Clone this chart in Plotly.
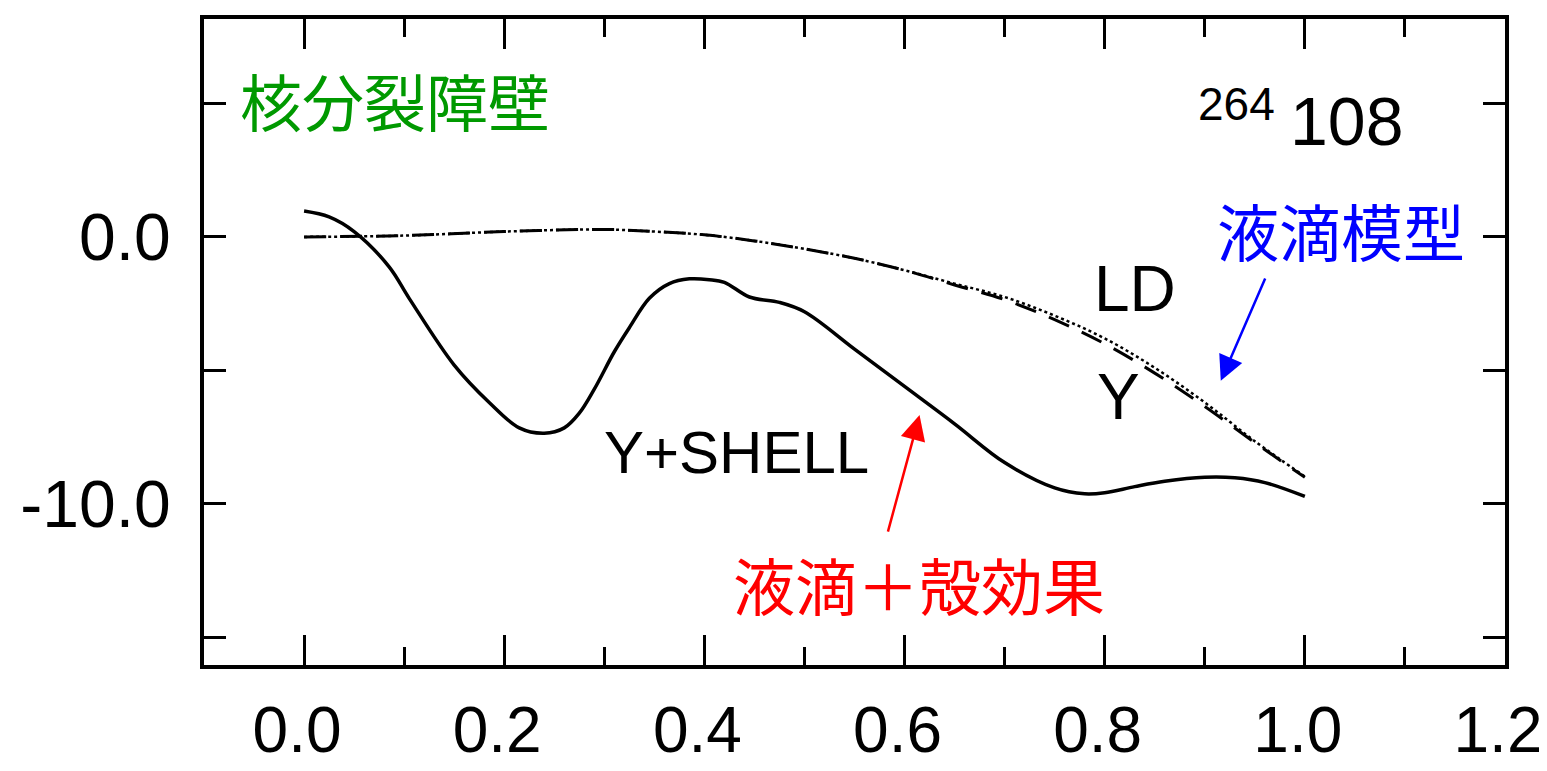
import plotly.graph_objects as go

# Y+SHELL (solid)
shell_x = [0.0, 0.025, 0.05, 0.085, 0.105, 0.15, 0.185, 0.215, 0.24, 0.26, 0.275, 0.29, 0.31, 0.325,
           0.345, 0.365, 0.385, 0.405, 0.42, 0.445, 0.475, 0.5, 0.55, 0.6, 0.65, 0.7, 0.75, 0.78,
           0.8, 0.83, 0.86, 0.9, 0.93, 0.96, 1.0]
shell_y = [0.97, 0.75, 0.2, -1.12, -2.3, -4.8, -6.2, -7.15, -7.35, -7.15, -6.6, -5.7, -4.3, -3.4,
           -2.3, -1.75, -1.57, -1.6, -1.7, -2.25, -2.45, -2.8, -4.2, -5.6, -7.0, -8.45, -9.4, -9.62,
           -9.58, -9.35, -9.15, -9.0, -9.02, -9.2, -9.72]

# LD (dashed)
ld_x = [0.0, 0.1, 0.2, 0.3, 0.35, 0.4, 0.45, 0.5, 0.55, 0.6, 0.65, 0.7, 0.75, 0.8, 0.85, 0.9, 0.95, 1.0]
ld_y = [0.0, 0.05, 0.2, 0.28, 0.2, 0.08, -0.15, -0.45, -0.8, -1.25, -1.8, -2.35, -3.1, -4.0, -5.1, -6.35, -7.7, -9.0]

# Y (dotted)
yy_x = [0.0, 0.1, 0.2, 0.3, 0.35, 0.4, 0.45, 0.5, 0.55, 0.6, 0.65, 0.7, 0.75, 0.8, 0.85, 0.9, 0.95, 1.0]
yy_y = [0.0, 0.05, 0.2, 0.28, 0.2, 0.08, -0.15, -0.45, -0.8, -1.25, -1.75, -2.25, -2.95, -3.8, -4.9, -6.2, -7.65, -8.97]

x_tickvals = [0.0, 0.2, 0.4, 0.6, 0.8, 1.0, 1.2]
x_ticktext = ["0.0", "0.2", "0.4", "0.6", "0.8", "1.0", "1.2"]
y_tickvals = [-15, -10, -5, 0, 5]
y_ticktext = ["", "-10.0", "", "0.0", ""]

LATIN = "Liberation Sans, Arial, sans-serif"
CJK = "Noto Sans CJK JP"

fig = go.Figure()
fig.add_trace(go.Scatter(x=yy_x, y=yy_y, mode="lines", line=dict(color="black", width=2.5, dash="dot"),
                         line_shape="spline", showlegend=False))
fig.add_trace(go.Scatter(x=ld_x, y=ld_y, mode="lines", line=dict(color="black", width=3, dash="22px,14px"),
                         line_shape="spline", showlegend=False))
fig.add_trace(go.Scatter(x=shell_x, y=shell_y, mode="lines", line=dict(color="black", width=3.5),
                         line_shape="spline", showlegend=False))

ann = []
def txt(x, y, t, size, color="black", font=LATIN):
    ann.append(dict(x=x, y=y, xref="x", yref="y", text=t, showarrow=False,
                    font=dict(size=size, color=color, family=font), xanchor="center", yanchor="middle"))

txt(0.091, 5.13, "核分裂障壁", 62, "#009900", CJK)
txt(1.036, 0.26, "液滴模型", 62, "#0000FF", CJK)
txt(0.614, -13.0, "液滴＋殻効果", 62, "#FF0000", CJK)
txt(0.932, 4.98, "264", 46)
txt(1.042, 4.34, "108", 68)
txt(0.83, -1.95, "LD", 64)
txt(0.814, -6.0, "Y", 64)
txt(0.432, -8.09, "Y+SHELL", 60)

# arrows
ann.append(dict(x=0.916, y=-5.39, ax=0.961, ay=-1.5, xref="x", yref="y", axref="x", ayref="y",
                text="", showarrow=True, arrowhead=2, arrowsize=2, arrowwidth=2.5, arrowcolor="#0000FF"))
ann.append(dict(x=0.615, y=-6.67, ax=0.583, ay=-11.09, xref="x", yref="y", axref="x", ayref="y",
                text="", showarrow=True, arrowhead=2, arrowsize=2, arrowwidth=2.5, arrowcolor="#FF0000"))

fig.update_layout(
    template="none",
    width=1539, height=763,
    margin=dict(l=196, r=42, t=11, b=106),
    paper_bgcolor="white", plot_bgcolor="white",
    annotations=ann,
    showlegend=False,
)
fig.update_xaxes(range=[-0.1, 1.2], tickvals=x_tickvals, ticktext=x_ticktext, automargin=False,
                 showline=True, linewidth=4, linecolor="black", mirror="allticks",
                 ticks="inside", ticklen=30, tickwidth=3, tickcolor="black",
                 minor=dict(dtick=0.1, tick0=0, ticks="inside", ticklen=18, tickwidth=3, tickcolor="black"),
                 showgrid=False, zeroline=False, ticklabelstandoff=6, ticklabelshift=-7,
                 ticklabeloverflow="allow",
                 tickfont=dict(family=LATIN, size=64, color="black"))
fig.update_yaxes(range=[-16.03, 8.16], tickvals=y_tickvals, ticktext=y_ticktext, automargin=False,
                 showline=True, linewidth=4, linecolor="black", mirror="allticks",
                 ticks="inside", ticklen=22, tickwidth=3, tickcolor="black",
                 showgrid=False, zeroline=False, ticklabelstandoff=16,
                 tickfont=dict(family=LATIN, size=66, color="black"))

fig.write_html("out.html")
